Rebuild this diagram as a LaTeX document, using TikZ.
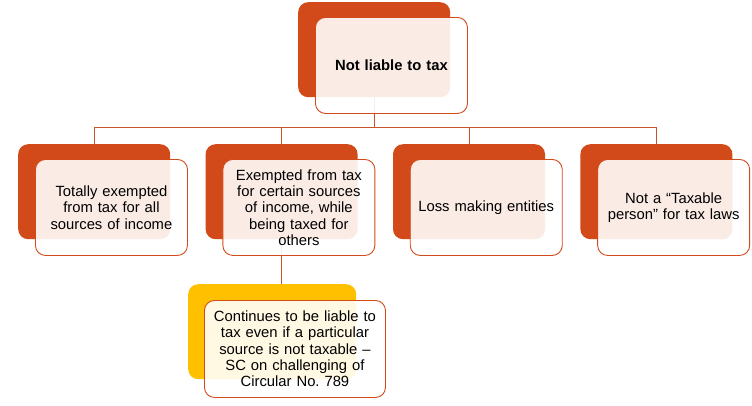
\documentclass[tikz,border=0pt]{standalone}
\usepackage{fontspec}
\setmainfont{Liberation Sans}
\usepackage{xcolor}
\usepackage{tikz}
\usetikzlibrary{positioning}

\definecolor{rust}{HTML}{D34A1A}
\definecolor{rustline}{HTML}{C8552A}
\definecolor{amber}{HTML}{FFC000}

\begin{document}
\begin{tikzpicture}[
    x=1pt, y=1pt,
    back/.style={
        rectangle,
        rounded corners=10pt,
        fill=rust,
        minimum width=152pt,
        minimum height=95pt,
        inner sep=0pt
    },
    front/.style={
        rectangle,
        rounded corners=10pt,
        draw=rust,
        line width=0.9pt,
        fill=white,
        fill opacity=0.89,
        text opacity=1,
        minimum width=152pt,
        minimum height=96pt,
        text width=144pt,
        inner sep=3pt,
        align=center,
        font=\fontsize{14.8}{16.3}\selectfont
    },
    link/.style={
        draw=rustline,
        line width=1pt
    }
]

\useasboundingbox (0,0) rectangle (752,-405);

% Back plates

\node[back, anchor=north west] (topback) at (298,-2) {};

\node[back, anchor=north west] (totalback) at (18,-144) {};
\node[back, right=35pt of totalback] (partback) {};
\node[back, right=35pt of partback] (lossback) {};
\node[back, right=35pt of lossback] (personback) {};

\node[back, fill=amber, minimum width=168pt, anchor=north west] (scback) at (188,-284) {};


% Links

\draw[link] (topback.south) -- ++(0,-30) -| (totalback.north);
\draw[link] (topback.south) -- ++(0,-30) -| (partback.north);
\draw[link] (topback.south) -- ++(0,-30) -| (lossback.north);
\draw[link] (topback.south) -- ++(0,-30) -| (personback.north);

\draw[link] (partback.south) -- (partback.south |- scback.north);


% Front cards

\node[front, below right=15pt and 17pt of topback.north west] (top) {
\textbf{Not liable to tax}
};

\node[front, below right=15pt and 17pt of totalback.north west] (total) {
Totally exempted\\ from tax for all\\ sources of income
};

\node[front, below right=15pt and 17pt of partback.north west] (part) {
Exempted from tax\\ for certain sources\\ of income, while\\ being taxed for\\ others
};

\node[front, below right=15pt and 17pt of lossback.north west] (loss) {
Loss making entities
};

\node[front, below right=15pt and 17pt of personback.north west] (person) {
Not a “Taxable\\ person” for tax laws
};

\node[front, minimum width=181pt, minimum height=97pt, text width=175pt,
      below right=16pt and 16pt of scback.north west] (sc) {
Continues to be liable to\\ tax even if a particular\\ source is not taxable –\\ SC on challenging of\\ Circular No.\ 789
};

\end{tikzpicture}
\end{document}
